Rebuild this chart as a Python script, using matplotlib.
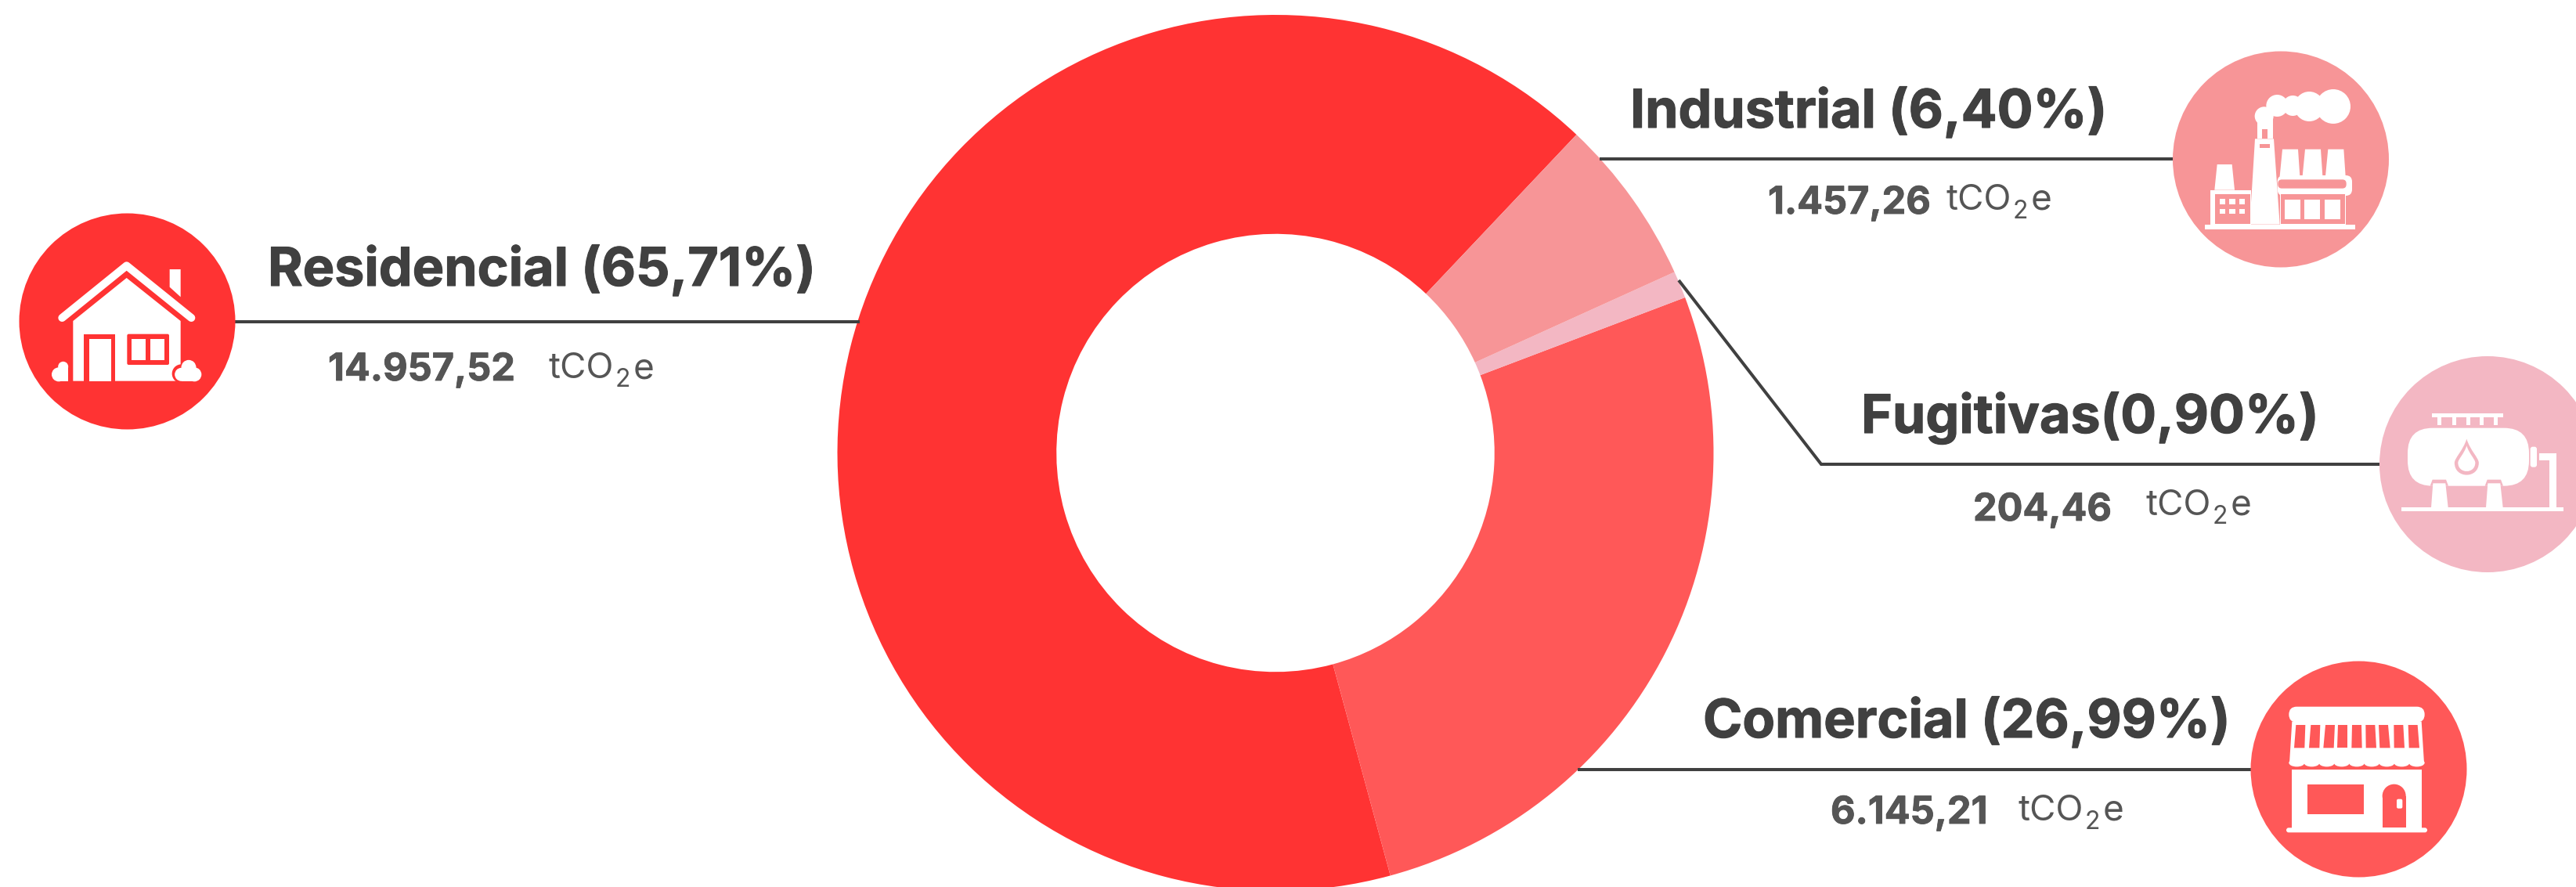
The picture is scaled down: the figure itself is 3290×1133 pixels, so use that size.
import matplotlib
matplotlib.use("Agg")
import matplotlib.pyplot as plt
import matplotlib.patheffects as pe
from matplotlib.patches import Circle, Ellipse, Polygon, Rectangle, FancyBboxPatch, PathPatch
from matplotlib.path import Path

# data
categories = ["Residencial", "Comercial", "Fugitivas", "Industrial"]
shares = ["65,71%", "26,99%", "0,90%", "6,40%"]
amounts = ["14.957,52", "6.145,21", "204,46", "1.457,26"]
# slice sizes as measured on the ring, they differ a little from the printed shares
drawn_shares = [66.28, 26.55, 1.00, 6.17]

RED = "#ff3333"
CORAL = "#ff5858"
SALMON = "#f79597"
PINK = "#f3b7c3"
DARK = "#404040"
GREY = "#555555"
colors = [RED, CORAL, PINK, SALMON]

W, H = 3291, 1133
plt.rcParams["font.family"] = ["Inter", "DejaVu Sans"]
fig = plt.figure(figsize=(W / 100, H / 100), dpi=100, facecolor="white")

# donut
cx, cy, R = 1629, 578.5, 559.5
ax_pie = fig.add_axes([(cx - R) / W, 1 - (cy + R) / H, 2 * R / W, 2 * R / H])
ax_pie.pie(drawn_shares, colors=colors, startangle=46.6, radius=1, counterclock=True,
           wedgeprops=dict(width=0.5, linewidth=0))
ax_pie.set_xlim(-1, 1)
ax_pie.set_ylim(-1, 1)
ax_pie.axis("off")

# overlay in image pixels, y going down
ax = fig.add_axes([0, 0, 1, 1])
ax.set_xlim(0, W)
ax.set_ylim(H, 0)
ax.axis("off")
ax.patch.set_alpha(0)


def leader(xs, ys):
    ax.plot(xs, ys, color=DARK, lw=2.9, solid_capstyle="butt", solid_joinstyle="miter")


def label(name, share, amount, tx, ty, vx, vy, ux, uy):
    title = f"{name}({share})" if name == "Fugitivas" else f"{name} ({share})"
    t = ax.text(tx, ty, title, fontsize=49, fontweight="bold", color=DARK, va="baseline", ha="left")
    t.set_path_effects([pe.withStroke(linewidth=0.8, foreground=DARK)])
    v = ax.text(vx, vy, amount, fontsize=35, fontweight="bold", color=GREY, va="baseline", ha="left")
    v.set_path_effects([pe.withStroke(linewidth=0.6, foreground=GREY)])
    r = fig.canvas.get_renderer()
    t1 = ax.text(ux, uy, "tCO", fontsize=33, color=GREY, va="baseline", ha="left")
    x = t1.get_window_extent(r).x1 + 1
    t2 = ax.text(x, uy + 11, "2", fontsize=23, color=GREY, va="baseline", ha="left")
    x = t2.get_window_extent(r).x1 + 4
    ax.text(x, uy, "e", fontsize=33, color=GREY, va="baseline", ha="left")


def poly(pts, fc="white"):
    ax.add_patch(Polygon(pts, closed=True, fc=fc, ec="none", zorder=4))


def box(x0, y0, x1, y1, fc="white"):
    ax.add_patch(Rectangle((x0, y0), x1 - x0, y1 - y0, fc=fc, ec="none", zorder=4))


def rbox(x0, y0, x1, y1, rad, fc="white"):
    ax.add_patch(FancyBboxPatch((x0, y0), x1 - x0, y1 - y0, boxstyle=f"round,pad=0,rounding_size={rad}",
                                fc=fc, ec="none", zorder=4))


def dot(x, y, r, fc="white"):
    ax.add_patch(Circle((x, y), r, fc=fc, ec="none", zorder=4))


def drop(x, top, bottom, hw, fc):
    belly = bottom - hw
    path = Path([(x, top), (x - hw * 0.3, belly - hw), (x - hw, belly - hw * 0.4), (x - hw, belly),
                 (x - hw, bottom + hw * 0.33), (x + hw, bottom + hw * 0.33), (x + hw, belly),
                 (x + hw, belly - hw * 0.4), (x + hw * 0.3, belly - hw), (x, top)],
                [Path.MOVETO] + [Path.CURVE4] * 9)
    ax.add_patch(PathPatch(path, fc=fc, ec="none", zorder=5))


def house(col):
    z = lambda x, y: (60 + x / 3, 320 + y / 3)
    poly([z(100, 270), z(305, 105), z(512, 270), z(512, 500), z(100, 500)])
    poly([z(470, 72), z(512, 72), z(512, 178), z(470, 140)])
    roof = [z(58, 258), z(305, 58), z(553, 258)]
    ax.plot([p[0] for p in roof], [p[1] for p in roof], color="white", lw=7.2,
            solid_capstyle="round", solid_joinstyle="round", zorder=4)
    # door and window
    box(*z(142, 320), *z(262, 500), col)
    box(*z(162, 338), *z(245, 500))
    rbox(*z(307, 320), *z(468, 438), 2, col)
    box(*z(325, 338), *z(378, 420))
    box(*z(397, 338), *z(450, 420))
    # bushes
    dot(*z(515, 472), 12, col)
    dot(*z(45, 475), 9)
    dot(*z(62, 445), 6.5)
    box(*z(50, 445), *z(80, 500))
    for x, y, r in [(515, 475, 8.5), (565, 475, 9), (543, 448, 9.5)]:
        dot(*z(x, y), r)
    box(*z(515, 470), *z(565, 500))


def factory(col):
    z = lambda x, y: (2810 + x / 3, 90 + y / 3)
    box(*z(18, 590), *z(595, 610))
    # smoke
    for x, y, r in [(510, 138, 22), (418, 138, 19), (355, 135, 13), (295, 135, 14), (245, 175, 12)]:
        dot(*z(x, y), r)
    box(*z(218, 170), *z(278, 225))
    box(*z(218, 225), *z(238, 262))
    box(*z(258, 225), *z(278, 262))
    # central stack
    poly([z(210, 262), z(282, 262), z(305, 590), z(190, 590)])
    box(*z(228, 282), *z(268, 298), col)
    # left block
    poly([z(65, 360), z(122, 360), z(132, 458), z(55, 458)])
    box(*z(38, 458), *z(195, 590))
    box(*z(58, 475), *z(192, 588), col)
    for x in (75, 112, 150):
        for y in (492, 530):
            box(*z(x, y), *z(x + 22, y + 20))
    # right block
    for x in (315, 402, 490):
        poly([z(x, 302), z(x + 60, 302), z(x + 67, 405), z(x - 10, 405)])
    rbox(*z(296, 402), *z(582, 480), 8)
    rbox(*z(298, 418), *z(560, 452), 5, col)
    box(*z(305, 470), *z(558, 590))
    box(*z(308, 475), *z(555, 588), col)
    for x0, x1 in [(323, 385), (400, 460), (478, 538)]:
        box(*z(x0, 495), *z(x1, 570))


def tank(col):
    z = lambda x, y: (3050 + x / 3, 500 + y / 3)
    box(*z(50, 445), *z(672, 460))
    box(*z(168, 85), *z(440, 98))
    for x in (190, 245, 300, 352, 405):
        box(*z(x, 98), *z(x + 15, 128))
    rbox(*z(75, 140), *z(540, 362), 32)
    rbox(*z(545, 212), *z(570, 290), 3)
    poly([z(580, 238), z(645, 238), z(645, 445), z(618, 445), z(618, 265), z(580, 265)])
    # legs
    for x in (165, 375):
        poly([z(x + 5, 338), z(x + 57, 338), z(x + 66, 362), z(x - 4, 362)], col)
        poly([z(x + 7, 352), z(x + 55, 352), z(x + 65, 445), z(x, 445)])
    xd = z(301, 0)[0]
    drop(xd, z(0, 182)[1], z(0, 320)[1], 15.5, col)
    drop(xd, z(0, 208)[1], z(0, 306)[1], 11, "white")


def store(col):
    z = lambda x, y: (2870 + x / 3, 880 + y / 3)
    rbox(*z(160, 68), *z(680, 128), 10)
    poly([z(172, 125), z(668, 125), z(678, 285), z(162, 285)])
    # stripes
    tops = [205, 262, 318, 367, 420, 472, 522, 580, 635]
    bottoms = [200, 257, 312, 365, 420, 475, 528, 583, 640]
    for xt, xb in zip(tops, bottoms):
        poly([z(xt - 18, 138), z(xt + 18, 138), z(xb + 20, 226), z(xb - 20, 226)], col)
    # scalloped edge
    box(*z(165, 283), *z(675, 312), col)
    for i in range(9):
        ax.add_patch(Ellipse(z(190 + i * 57.5, 283), 20, 10, fc="white", ec="none", zorder=4))
    box(*z(172, 310), *z(668, 535))
    box(*z(232, 365), *z(448, 480), col)
    box(*z(518, 410), *z(608, 530), col)
    dot(*z(563, 410), 15, col)
    rbox(*z(573, 422), *z(595, 458), 2)
    rbox(*z(150, 532), *z(690, 550), 3)


# Residencial
leader([300, 1098], [410.5, 410.5])
dot(162.5, 410.5, 138, RED)
house(RED)
label(categories[0], shares[0], amounts[0], 342, 365, 419, 486, 701, 483)

# Industrial
leader([2043, 2776], [203, 203])
dot(2913, 203.5, 138, SALMON)
factory(SALMON)
label(categories[3], shares[3], amounts[3], 2082, 163, 2258, 273, 2486, 268)

# Fugitivas
leader([2144, 2326, 3039], [358, 593, 593])
dot(3177, 593, 138, PINK)
tank(PINK)
label(categories[2], shares[2], amounts[2], 2377, 553, 2520, 665, 2741, 658)

# Comercial
leader([2015, 2875], [983, 983])
dot(3012.5, 982.5, 138, CORAL)
store(CORAL)
label(categories[1], shares[1], amounts[1], 2175, 942, 2338, 1052, 2578, 1048)

fig.savefig("out.png", dpi=100, facecolor="white")
